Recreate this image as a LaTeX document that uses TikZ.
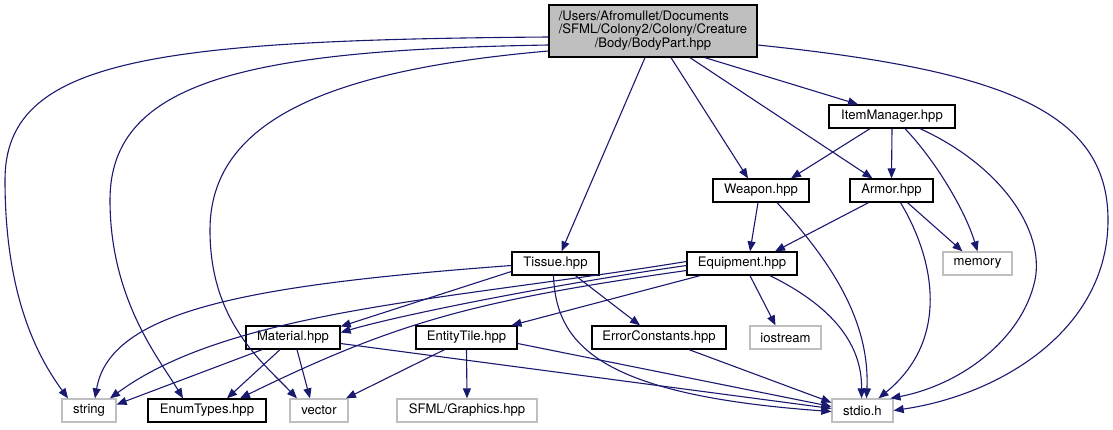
\documentclass[tikz,border=0pt]{standalone}
\usepackage{fontspec}
\setmainfont{TeX Gyre Heros}
\usetikzlibrary{arrows.meta}
\definecolor{edgeblue}{HTML}{191970}
\definecolor{grayfill}{HTML}{BFBFBF}
\definecolor{grayline}{HTML}{BFBFBF}
\begin{document}
\begin{tikzpicture}[x=1pt,y=-1pt,
  every node/.style={font=\fontsize{13.1}{13.5}\selectfont, inner sep=0pt, minimum height=23pt},
  box/.style={draw=black, line width=1.3pt},
  ext/.style={draw=grayline, line width=1.3pt},
  edge/.style={draw=edgeblue, line width=1.1pt, -{Triangle[length=10pt,width=8pt]}}]
\useasboundingbox (0,0) rectangle (1113,429);
% nodes
\node[box, fill=grayfill, minimum width=208pt, minimum height=52pt] (top) at (653,31)
  {\begin{tabular}{@{}l@{}}/Users/Afromullet/Documents\\/SFML/Colony2/Colony/Creature\\\multicolumn{1}{@{}c@{}}{/Body/BodyPart.hpp}\end{tabular}};
\node[box, minimum width=126pt] (item) at (892,116.5) {ItemManager.hpp};
\node[box, minimum width=96pt] (weapon) at (761,190.5) {Weapon.hpp};
\node[box, minimum width=83pt] (armor) at (891.5,190.5) {Armor.hpp};
\node[box, minimum width=87pt] (tissue) at (555.5,263.5) {Tissue.hpp};
\node[box, minimum width=110pt] (equip) at (742,263.5) {Equipment.hpp};
\node[ext, minimum width=69pt] (memory) at (977.5,263.5) {memory};
\node[box, minimum width=94pt] (material) at (293,337.5) {Material.hpp};
\node[box, minimum width=101pt] (entity) at (466.5,337.5) {EntityTile.hpp};
\node[box, minimum width=134pt] (errc) at (659,337.5) {ErrorConstants.hpp};
\node[ext, minimum width=71pt] (iostream) at (785.5,337.5) {iostream};
\node[ext, minimum width=54pt] (string) at (89,410.5) {string};
\node[box, minimum width=118pt] (enum) at (207,410.5) {EnumTypes.hpp};
\node[ext, minimum width=58pt] (vector) at (319,410.5) {vector};
\node[ext, minimum width=140pt] (sfml) at (467,410.5) {SFML/Graphics.hpp};
\node[ext, minimum width=61pt] (stdio) at (862.5,410.5) {stdio.h};
% edges from top
\draw[edge] ([yshift=-6pt]top.west) .. controls (150,40) and (5,60) .. (5,180) .. controls (5,300) and (40,360) .. ([xshift=-21pt]string.north);
\draw[edge] ([yshift=-14pt]top.west) .. controls (250,50) and (110,80) .. (110,200) .. controls (110,300) and (160,360) .. ([xshift=-24pt]enum.north);
\draw[edge] ([yshift=-20pt]top.west) .. controls (330,70) and (210,120) .. (210,230) .. controls (210,320) and (260,360) .. ([xshift=-22pt]vector.north);
\draw[edge] ([xshift=-8pt]top.south) -- ([xshift=6pt]tissue.north);
\draw[edge] ([xshift=18pt]top.south) -- ([xshift=-13pt]weapon.north);
\draw[edge] ([xshift=37pt]top.south) -- ([xshift=-19pt]armor.north);
\draw[edge] ([xshift=52pt]top.south) -- ([xshift=-34pt]item.north);
\draw[edge] ([yshift=-14pt]top.east) .. controls (1000,70) and (1108,110) .. (1108,220) .. controls (1108,330) and (1000,395) .. (stdio.east);
% item manager
\draw[edge] ([xshift=-22pt]item.south) -- ([xshift=30pt]weapon.north);
\draw[edge] (item.south) -- (armor.north);
\draw[edge] ([xshift=13pt]item.south) .. controls (935,160) and (965,210) .. (memory.north);
\draw[edge] ([xshift=28pt]item.south) .. controls (1000,165) and (1045,230) .. (1035,280) .. controls (1022,340) and (960,385) .. ([xshift=28pt]stdio.north);
% weapon
\draw[edge] ([xshift=-3pt]weapon.south) -- ([xshift=8pt]equip.north);
\draw[edge] ([xshift=16pt]weapon.south) .. controls (830,260) and (870,320) .. ([xshift=4pt]stdio.north);
% armor
\draw[edge] ([xshift=-23pt]armor.south) -- ([xshift=33pt]equip.north);
\draw[edge] ([xshift=16pt]armor.south) -- ([xshift=-15pt]memory.north);
\draw[edge] ([xshift=9pt]armor.south) .. controls (935,260) and (950,340) .. ([xshift=16pt]stdio.north);
% tissue
\draw[edge] ([yshift=-8pt]tissue.west) -- ([yshift=11pt]material.east);
\draw[edge] ([yshift=-2pt]tissue.west) .. controls (250,285) and (110,310) .. ([xshift=6pt]string.north);
\draw[edge] ([xshift=20pt]tissue.south) -- ([xshift=-19pt]errc.north);
\draw[edge] ([xshift=-2pt]tissue.south) .. controls (556,345) and (600,395) .. ([yshift=-1pt]stdio.west);
% equipment
\draw[edge] ([yshift=-2pt]equip.west) .. controls (550,285) and (400,315) .. ([yshift=5pt]material.east);
\draw[edge] ([yshift=2pt]equip.west) .. controls (450,300) and (230,310) .. ([xshift=21pt]string.north);
\draw[edge] ([yshift=-7pt]equip.west) .. controls (480,300) and (400,320) .. ([xshift=33pt]enum.north);
\draw[edge] ([xshift=-42pt]equip.south) -- ([xshift=45pt]entity.north);
\draw[edge] ([xshift=8pt]equip.south) -- ([xshift=-10pt]iostream.north);
\draw[edge] ([xshift=28pt]equip.south) .. controls (840,310) and (862,350) .. ([xshift=-1pt]stdio.north);
% material
\draw[edge] ([xshift=-31pt]material.south) -- ([yshift=6pt]string.east);
\draw[edge] ([xshift=-13pt]material.south) -- ([xshift=20pt]enum.north);
\draw[edge] ([xshift=4pt]material.south) -- ([xshift=-9pt]vector.north);
\draw[edge] ([yshift=-6pt]material.east) -- ([yshift=2pt]stdio.west);
% entity tile
\draw[edge] ([xshift=-22pt]entity.south) -- ([xshift=27pt]vector.north);
\draw[edge] (entity.south) -- (sfml.north);
\draw[edge] ([yshift=-6pt]entity.east) -- ([yshift=4pt]stdio.west);
% error constants
\draw[edge] ([xshift=30pt]errc.south) -- ([yshift=8pt]stdio.west);
\end{tikzpicture}
\end{document}
